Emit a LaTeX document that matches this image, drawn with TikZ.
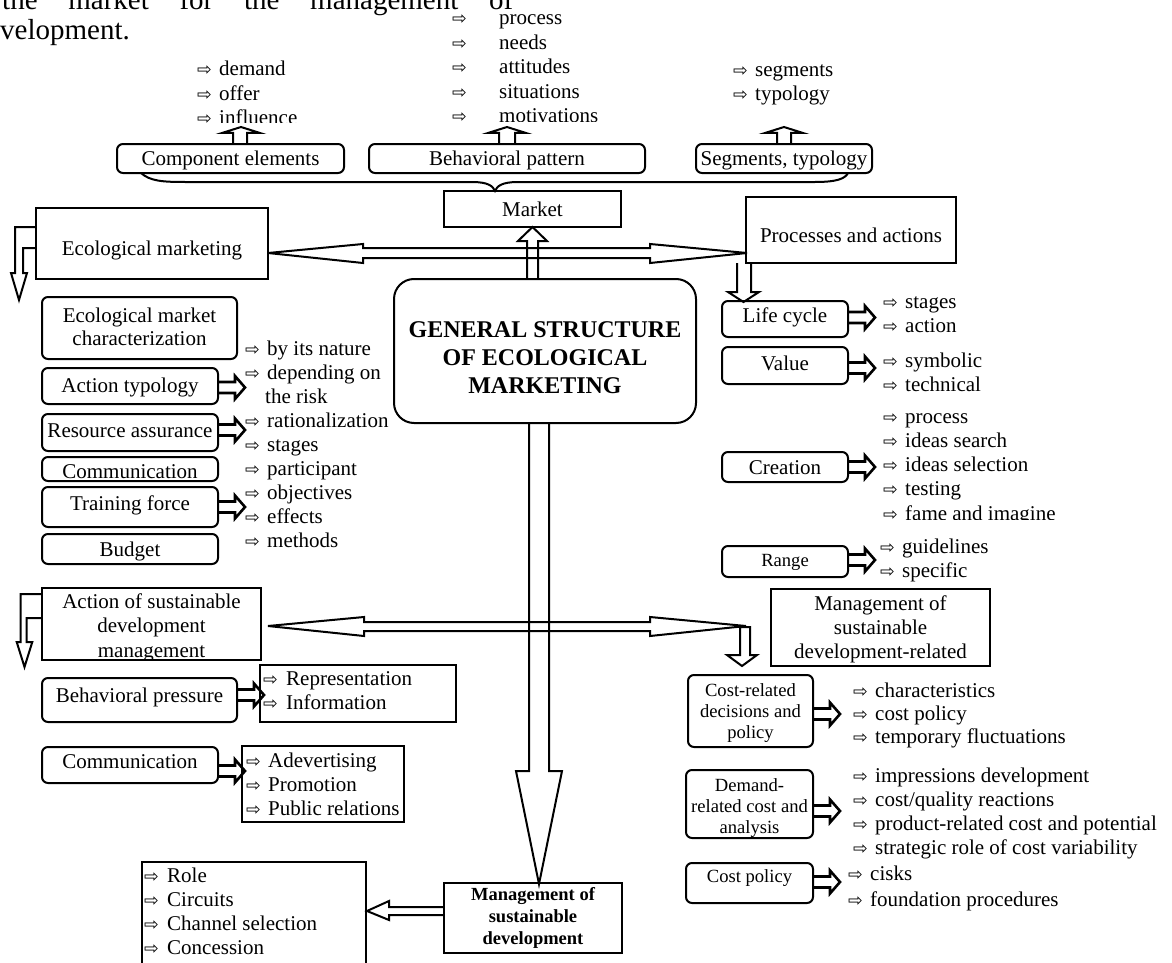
\documentclass[tikz,border=0pt]{standalone}
\usepackage{fontspec}
\setmainfont{Liberation Serif}
\newfontfamily\symf{DejaVu Sans}
\NewDocumentCommand\ar{O{22pt}}{\makebox[#1][l]{\symf\fontsize{17.5}{17.5}\selectfont ⇨}}
\newcommand\mylist[2]{\vtop{\baselineskip=#1pt\halign{##\hfil\cr#2\crcr}}}
\newcommand\mycent[2]{\vtop{\baselineskip=#1pt\halign{\hfil##\hfil\cr#2\crcr}}}
\tikzset{
  bx/.style={draw, line width=2pt, rounded corners=6pt, inner sep=0pt},
  sq/.style={draw, line width=2pt, inner sep=0pt},
  tx/.style={inner sep=0pt, font=\fontsize{21}{24}\selectfont},
  sm/.style={inner sep=0pt, font=\fontsize{18.6}{21}\selectfont},
  bft/.style={inner sep=0pt, font=\bfseries\fontsize{24}{28}\selectfont},
  bfs/.style={inner sep=0pt, font=\bfseries\fontsize{18.5}{22}\selectfont},
  hd/.style={inner sep=0pt, font=\fontsize{29}{32}\selectfont},
  ln/.style={line width=2pt, line join=miter},
  blk/.style={line width=2.6pt, line join=miter},
  rarr/.pic={\draw[blk] (0,-5.5) -- (16,-5.5) -- (16,-11.5) -- (26,0) -- (16,11.5) -- (16,5.5) -- (0,5.5);}
}
\begin{document}
\begin{tikzpicture}[x=1pt,y=-1pt]
\useasboundingbox (0,0) rectangle (1172,963);
\clip (0,0) rectangle (1172,963);

% heading fragment
\node[hd, anchor=base west] (h1) at (2,10) {\hbox to 511pt{the\hfil market\hfil for\hfil the\hfil management\hfil of}};
\node[hd, anchor=base west] (h2) at (0,40) {velopment.};

% top lists
\begin{scope}
\clip (150,0) rectangle (420,123);
\node[tx, anchor=base west] (dl) at (197,76) {\mylist{24.5}{\ar demand\cr\ar offer\cr\ar influence}};
\end{scope}
\begin{scope}
\clip (420,0) rectangle (700,121.5);
\node[tx, anchor=base west] (pl) at (452,25) {\mylist{24.5}{\ar[47pt]process\cr\ar[47pt]needs\cr\ar[47pt]attitudes\cr\ar[47pt]situations\cr\ar[47pt]motivations}};
\end{scope}
\node[tx, anchor=base west] (sl) at (733,77) {\mylist{23.5}{\ar segments\cr\ar typology}};

% top boxes
\node[bx, minimum width=227pt, minimum height=29pt] (ce) at (230.5,158.5) {};
\node[tx, anchor=base] (cet) at (230.5,165) {Component elements};
\node[bx, minimum width=276pt, minimum height=29pt] (bp) at (507,158.5) {};
\node[tx, anchor=base] (bpt) at (507,165) {Behavioral pattern};
\node[bx, minimum width=176pt, minimum height=29pt] (st) at (784,158.5) {};
\node[tx, anchor=base] (stt) at (784,165) {Segments, typology};

\draw[ln] (233,144) -- (233,133) -- (222,133) -- (241,127) -- (260,133) -- (247,133) -- (247,144);
\draw[ln] (499,144) -- (499,133) -- (488,133) -- (507,127) -- (526,133) -- (515,133) -- (515,144);
\draw[ln] (777,144) -- (777,133) -- (765,133) -- (784,127) -- (803,133) -- (791,133) -- (791,144);

% brace
\draw[ln] (141,173) .. controls (150,181) and (162,182) .. (185,182) -- (472,182)
  .. controls (488,182) and (493,186) .. (495,191)
  .. controls (497,186) and (502,182) .. (518,182) -- (815,182)
  .. controls (836,182) and (845,179) .. (848,173);

% market
\node[sq, minimum width=177pt, minimum height=36pt] (mk) at (532.5,209) {};
\node[tx, anchor=base] (mkt) at (532.5,216) {Market};

% ecological marketing
\node[sq, minimum width=232pt, minimum height=71pt] (em) at (152,243.5) {};
\node[tx, anchor=base] (emt) at (152,255) {Ecological marketing};
\draw[ln] (36,227) -- (15,227) -- (15,273) -- (11,273) -- (19,300) -- (27,273) -- (23,273) -- (23,248) -- (36,248);

% processes and actions
\node[sq, minimum width=210pt, minimum height=66pt] (pa) at (851,230) {};
\node[tx, anchor=base] (pat) at (851,242) {Processes and actions};
\draw[ln] (737,263) -- (737,292) -- (728,292) -- (743.5,302) -- (759,292) -- (751,292) -- (751,263);

% top double arrow
\draw[ln] (268,253) -- (363,244) -- (363,248) -- (650,248) -- (650,244) -- (747,253) -- (650,263) -- (650,258) -- (363,258) -- (363,263) -- cycle;

% main box
\node[draw, line width=2pt, rounded corners=20pt, inner sep=0pt, minimum width=302pt, minimum height=144pt] (main) at (545,351) {};
\node[bft, anchor=base] (maint) at (545,337) {\mycent{28}{GENERAL STRUCTURE\cr OF ECOLOGICAL\cr MARKETING}};
\draw[ln] (527,279) -- (527,241) -- (518,241) -- (532.5,227) -- (547,241) -- (538,241) -- (538,279);

% left column (ecological)
\node[bx, minimum width=195pt, minimum height=62pt] (emc) at (139.5,328) {};
\node[tx, anchor=base] (emct) at (139.5,322) {\mycent{23}{Ecological market\cr characterization}};
\node[bx, minimum width=176pt, minimum height=36pt] (at) at (130,386) {};
\node[tx, anchor=base] (att) at (130,392) {Action typology};
\node[bx, minimum width=176pt, minimum height=37pt] (ra) at (130,432.5) {};
\node[tx, anchor=base] (rat) at (130,437) {Resource assurance};
\node[bx, minimum width=176pt, minimum height=24pt] (cm) at (130,469) {};
\node[tx, anchor=base] (cmt) at (130,478) {Communication};
\node[bx, minimum width=176pt, minimum height=40pt] (tf) at (130,507) {};
\node[tx, anchor=base] (tft) at (130,510) {Training force};
\node[bx, minimum width=176pt, minimum height=30pt] (bu) at (130,549) {};
\node[tx, anchor=base] (but) at (130,556) {Budget};
\pic at ([yshift=-1.5pt]at.east) {rarr};
\pic at ([yshift=2.5pt]ra.east) {rarr};
\pic at (tf.east) {rarr};
\node[tx, anchor=base west] (el) at (245,355) {\mylist{24.1}{\ar by its nature\cr\ar depending on\cr\hskip20pt the risk\cr\ar rationalization\cr\ar stages\cr\ar participant\cr\ar objectives\cr\ar effects\cr\ar methods}};

% action of sustainable development management
\node[sq, minimum width=219pt, minimum height=72pt] (asd) at (151.5,624) {};
\begin{scope}
\clip (42,580) rectangle (261,659);
\node[tx, anchor=base] (asdt) at (151.5,608) {\mycent{24.5}{Action of sustainable\cr development\cr management}};
\end{scope}
\draw[ln] (42,594) -- (20.7,594) -- (20.7,642) -- (16.7,642) -- (24.5,667) -- (32.3,642) -- (26.7,642) -- (26.7,618) -- (42,618);

% lower double arrow
\draw[ln] (268,626) -- (364,617) -- (364,622) -- (650,622) -- (650,617) -- (746,626) -- (650,636) -- (650,631) -- (364,631) -- (364,636) -- cycle;
\draw[ln] (740,627) -- (740,655) -- (727,655) -- (742,666) -- (757,655) -- (750,655) -- (750,627) -- cycle;

% big down arrow
\draw[ln] (529,423) -- (529,771) -- (516,771) -- (539,884) -- (562,771) -- (549,771) -- (549,423);

% behavioral pressure
\node[bx, minimum width=195pt, minimum height=44pt] (bpr) at (139.5,700) {};
\node[tx, anchor=base] (bprt) at (139.5,702) {Behavioral pressure};
\node[sq, minimum width=196pt, minimum height=57pt] (rep) at (358,693.5) {};
\node[tx, anchor=base west] (repl) at (263,685) {\mylist{24}{\ar[23pt]Representation\cr\ar[23pt]Information}};
\pic at ([yshift=5pt]bpr.east) {rarr};

\node[bx, minimum width=176pt, minimum height=36pt] (cm2) at (130,765) {};
\node[tx, anchor=base] (cm2t) at (130,768) {Communication};
\node[sq, minimum width=162pt, minimum height=76pt] (adv) at (323,784) {};
\node[tx, anchor=base west] (advl) at (246,767) {\mylist{24}{\ar Adevertising\cr\ar Promotion\cr\ar Public relations}};
\pic at ([yshift=-6pt]cm2.east) {rarr};

% management of sustainable development
\node[sq, minimum width=178pt, minimum height=70pt] (msd) at (533,918) {};
\node[bfs, anchor=base] (msdt) at (533,900) {\mycent{22}{Management of\cr sustainable\cr development}};
\node[sq, minimum width=224pt, minimum height=113pt] (role) at (254,918.5) {};
\node[tx, anchor=base west] (rolel) at (144,882) {\mylist{24.3}{\ar[23pt]Role\cr\ar[23pt]Circuits\cr\ar[23pt]Channel selection\cr\ar[23pt]Concession}};
\draw[ln] (444,907) -- (389,907) -- (389,901) -- (367,911) -- (389,920) -- (389,915) -- (444,915);

% right column
\node[bx, minimum width=126pt, minimum height=36pt] (lc) at (785,319) {};
\node[tx, anchor=base] (lct) at (785,322) {Life cycle};
\node[bx, minimum width=126pt, minimum height=37pt] (va) at (785,365.5) {};
\node[tx, anchor=base] (vat) at (785,370) {Value};
\node[bx, minimum width=126pt, minimum height=30pt] (cr) at (785,467) {};
\node[tx, anchor=base] (crt) at (785,474) {Creation};
\node[bx, minimum width=126pt, minimum height=31pt] (rg) at (785,561.5) {};
\node[sm, anchor=base] (rgt) at (785,566) {Range};
\pic at ([yshift=1.5pt]lc.east) {rarr};
\pic at ([yshift=-2.5pt]va.east) {rarr};
\pic at (cr.east) {rarr};
\pic at ([yshift=1.5pt]rg.east) {rarr};
\node[tx, anchor=base west] (lcl) at (883,308) {\mylist{24}{\ar stages\cr\ar action}};
\node[tx, anchor=base west] (val) at (883,367) {\mylist{24}{\ar symbolic\cr\ar technical}};
\begin{scope}
\clip (870,400) rectangle (1172,519);
\node[tx, anchor=base west] (crl) at (883,423) {\mylist{24.25}{\ar process\cr\ar ideas search\cr\ar ideas selection\cr\ar testing\cr\ar fame and imagine}};
\end{scope}
\node[tx, anchor=base west] (rgl) at (880,553) {\mylist{24}{\ar guidelines\cr\ar specific}};

\node[sq, minimum width=219pt, minimum height=77pt] (msr) at (880.5,627.5) {};
\node[tx, anchor=base] (msrt) at (880.5,610) {\mycent{24}{Management of\cr sustainable\cr development-related}};

\node[bx, minimum width=125pt, minimum height=72pt] (crd) at (750.5,711) {};
\node[sm, anchor=base] (crdt) at (750.5,696) {\mycent{21}{Cost-related\cr decisions and\cr policy}};
\pic at ([yshift=-3pt]crd.east) {rarr};
\node[tx, anchor=base west] (crdl) at (853,697) {\mylist{23}{\ar characteristics\cr\ar cost policy\cr\ar temporary fluctuations}};

\node[bx, minimum width=127pt, minimum height=68pt] (drc) at (749.5,804) {};
\begin{scope}
\clip (686,770) rectangle (813,837);
\node[sm, anchor=base] (drct) at (749.5,791) {\mycent{21}{Demand-\cr related cost and\cr analysis}};
\end{scope}
\pic at ([yshift=-7pt]drc.east) {rarr};
\node[tx, anchor=base west] (drcl) at (853,782) {\mylist{24.3}{\ar impressions development\cr\ar cost/quality reactions\cr\ar product-related cost and potential\cr\ar strategic role of cost variability}};

\node[bx, minimum width=127pt, minimum height=40pt] (cp) at (749.5,883) {};
\node[sm, anchor=base] (cpt) at (749.5,882) {Cost policy};
\pic at ([yshift=1pt]cp.east) {rarr};
\node[tx, anchor=base west] (cpl) at (848,880) {\mylist{26}{\ar cisks\cr\ar foundation procedures}};
\end{tikzpicture}
\end{document}
